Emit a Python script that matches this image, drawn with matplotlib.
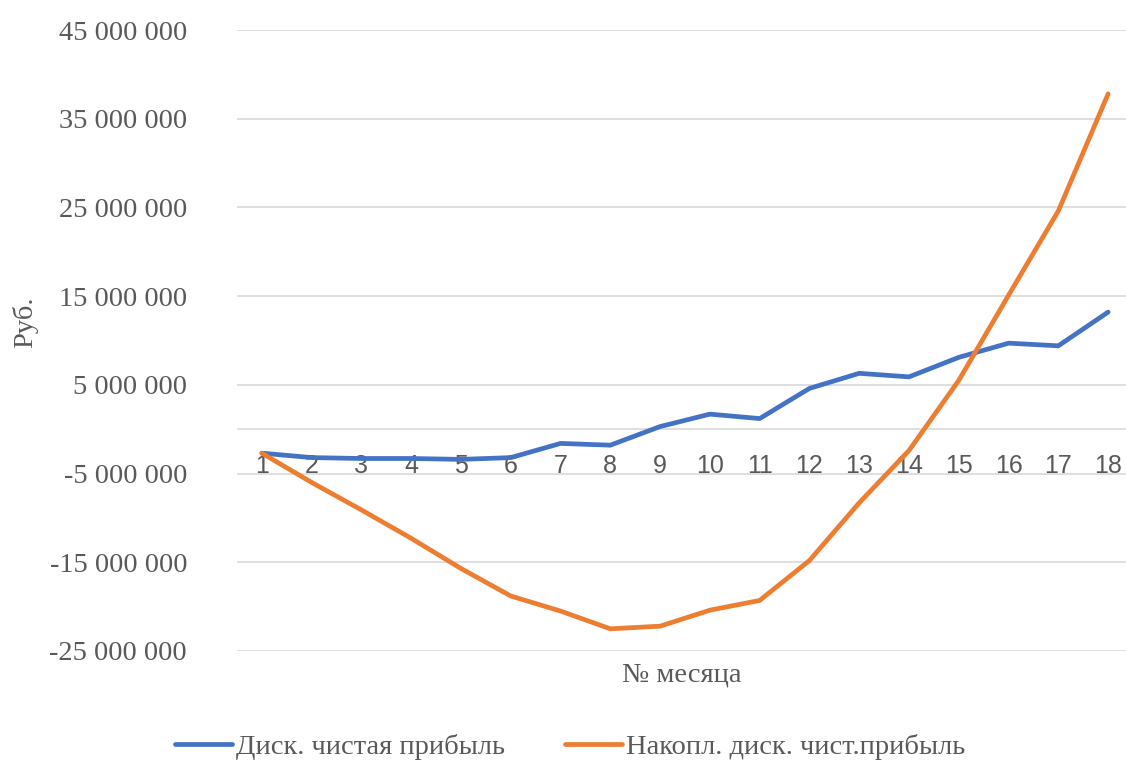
import matplotlib.pyplot as plt
from matplotlib.ticker import FuncFormatter

months = list(range(1, 19))
disc_profit = [-2.7, -3.2, -3.3, -3.3, -3.4, -3.2, -1.6, -1.8, 0.3, 1.7,
               1.2, 4.6, 6.3, 5.9, 8.1, 9.7, 9.4, 13.2]
cum_profit = [-2.7, -6.0, -9.1, -12.3, -15.7, -18.8, -20.5, -22.5, -22.2, -20.4,
              -19.3, -14.8, -8.3, -2.4, 5.5, 15.1, 24.6, 37.8]
disc_profit = [v * 1e6 for v in disc_profit]
cum_profit = [v * 1e6 for v in cum_profit]
yticks = [-25e6, -15e6, -5e6, 5e6, 15e6, 25e6, 35e6, 45e6]

BLUE = '#4472C4'
ORANGE = '#ED7D31'
TXT = '#595959'
GRID = '#D9D9D9'
SERIF = 'Liberation Serif'

fig = plt.figure(figsize=(11.26, 7.62), dpi=100)
ax = fig.add_axes([237 / 1126, 111 / 762, 896 / 1126, 621 / 762])

ax.plot(months, disc_profit, color=BLUE, lw=3.4, label='Диск. чистая прибыль',
        solid_capstyle='round', zorder=3)
ax.plot(months, cum_profit, color=ORANGE, lw=3.4, label='Накопл. диск. чист.прибыль',
        solid_capstyle='round', zorder=3)

ax.set_xlim(0.5, 18.5)
ax.set_ylim(-25e6, 45e6)
ax.set_yticks(yticks)
ax.yaxis.set_major_formatter(FuncFormatter(lambda v, p: f'{int(v):,}'.replace(',', ' ')))
ax.grid(axis='y', color=GRID, lw=1.2, zorder=0)
ax.axhline(0, color=GRID, lw=1.2, zorder=1)

# month labels hang off the zero line
ax.spines['bottom'].set_position(('data', 0))
for s in ['top', 'right', 'left', 'bottom']:
    ax.spines[s].set_visible(False)
ax.set_xticks(months)
ax.tick_params(axis='x', length=0, pad=18, labelsize=18, labelcolor=TXT)
ax.tick_params(axis='y', length=0, pad=36, labelcolor=TXT)
for lbl in ax.get_xticklabels():
    lbl.set_fontfamily('Liberation Sans')
for lbl in ax.get_yticklabels():
    lbl.set_fontfamily(SERIF)
    lbl.set_fontsize(20.5)

fig.text(25 / 1126, 1 - 322 / 762, 'Руб.', rotation=90, ha='center', va='center',
         family=SERIF, fontsize=20.5, color=TXT)
fig.text(682 / 1126, 1 - 675 / 762, '№ месяца', ha='center', va='center',
         family=SERIF, fontsize=20.5, color=TXT)

leg = fig.legend(loc='center', bbox_to_anchor=(570 / 1126, 1 - 747 / 762), ncol=2,
                 frameon=False, handlelength=2.0, handletextpad=0.15,
                 columnspacing=2.1, prop={'family': SERIF, 'size': 20.5})
for t in leg.get_texts():
    t.set_color(TXT)

fig.savefig('out.png', dpi=100)
